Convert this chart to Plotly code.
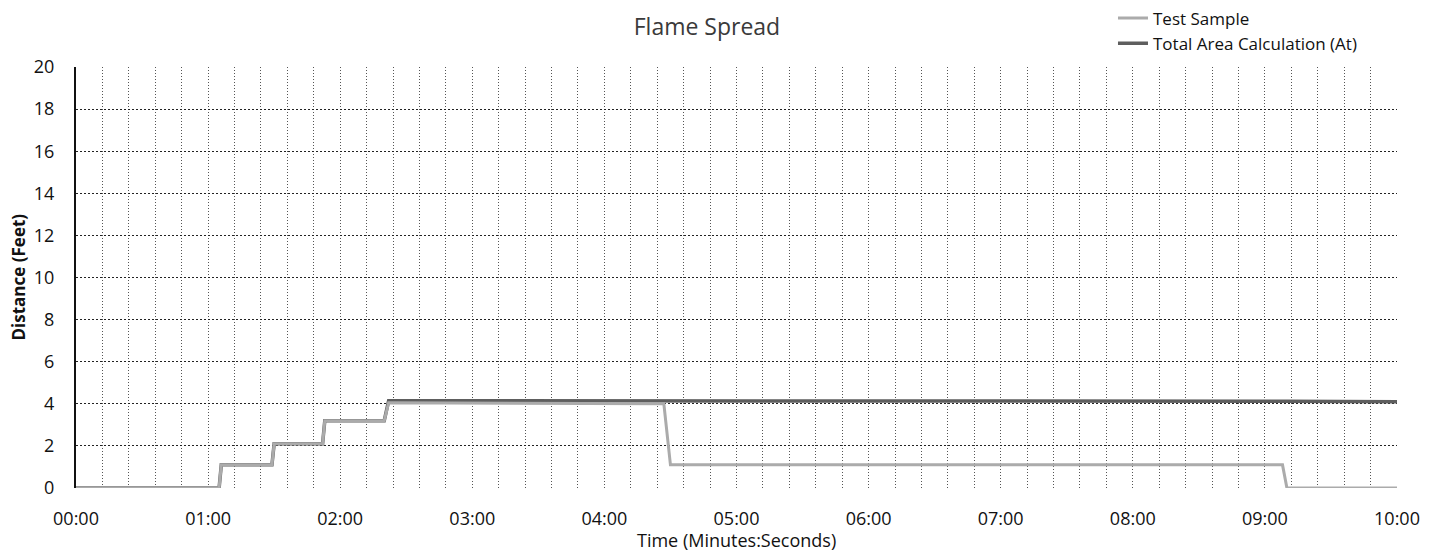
import plotly.graph_objects as go

# Time in seconds
time_s = [0, 65, 66, 89, 90, 112, 113, 140, 142, 267, 270, 548, 550, 600]
test_sample = [0, 0, 1.1, 1.1, 2.1, 2.1, 3.2, 3.2, 4.05, 4.0, 1.1, 1.1, 0, 0]
total_area = [0, 0, 1.1, 1.1, 2.1, 2.1, 3.2, 3.2, 4.15, 4.15, 4.15, 4.12, 4.12, 4.1]

tick_vals = [0, 60, 120, 180, 240, 300, 360, 420, 480, 540, 600]
tick_text = ["00:00", "01:00", "02:00", "03:00", "04:00", "05:00",
             "06:00", "07:00", "08:00", "09:00", "10:00"]

FONT = "Open Sans"

fig = go.Figure()
fig.add_trace(go.Scatter(
    x=time_s, y=total_area, mode="lines", name="Total Area Calculation (At)",
    line=dict(color="#5e5e5e", width=3.5), legendrank=2))
fig.add_trace(go.Scatter(
    x=time_s, y=test_sample, mode="lines", name="Test Sample",
    line=dict(color="#ababab", width=3), legendrank=1))

fig.update_layout(
    width=1437, height=548,
    margin=dict(l=68, r=48, t=59, b=68, autoexpand=False),
    paper_bgcolor="white", plot_bgcolor="white",
    font=dict(family=FONT, color="#111111"),
    title=dict(text="Flame Spread", xref="container", x=0.4864, xanchor="center",
               yref="container", y=0.966, yanchor="middle",
               font=dict(size=23, color="#3a3a3a", family=FONT)),
    legend=dict(xref="paper", x=0.785, xanchor="left",
                yref="paper", y=1.158, yanchor="top",
                font=dict(size=17, family=FONT, color="#111111"),
                bgcolor="rgba(0,0,0,0)", tracegroupgap=0),
    showlegend=True,
    annotations=[
        dict(text="Time (Minutes:Seconds)", xref="paper", x=0.5, yref="paper", y=0,
             yshift=-52, xanchor="center", yanchor="middle", showarrow=False,
             font=dict(size=18, family=FONT, color="#111111")),
        dict(text="<b>Distance (Feet)</b>", xref="paper", x=0, xshift=-58, yref="paper", y=0.5,
             xanchor="center", yanchor="middle", textangle=-90, showarrow=False,
             font=dict(size=17, family=FONT, color="#111111")),
    ],
)

fig.update_xaxes(
    range=[0, 600], tickvals=tick_vals, ticktext=tick_text,
    tickfont=dict(size=18, family=FONT, color="#111111"),
    ticks="", ticklabelstandoff=18, automargin=False,
    showgrid=True, gridcolor="#555555", griddash="1px,2px", gridwidth=1,
    minor=dict(dtick=12, tick0=0, showgrid=True, gridcolor="#555555", griddash="1px,2px", gridwidth=1),
    showline=False, zeroline=False,
)
fig.update_yaxes(
    range=[0, 20], dtick=2, tick0=0,
    tickfont=dict(size=18, family=FONT, color="#111111"),
    ticks="", ticklabelstandoff=16, automargin=False,
    showgrid=True, gridcolor="#222222", griddash="2px,2px", gridwidth=1,
    showline=True, linecolor="#111111", linewidth=2,
    zeroline=False,
)

fig.write_html("out.html")
